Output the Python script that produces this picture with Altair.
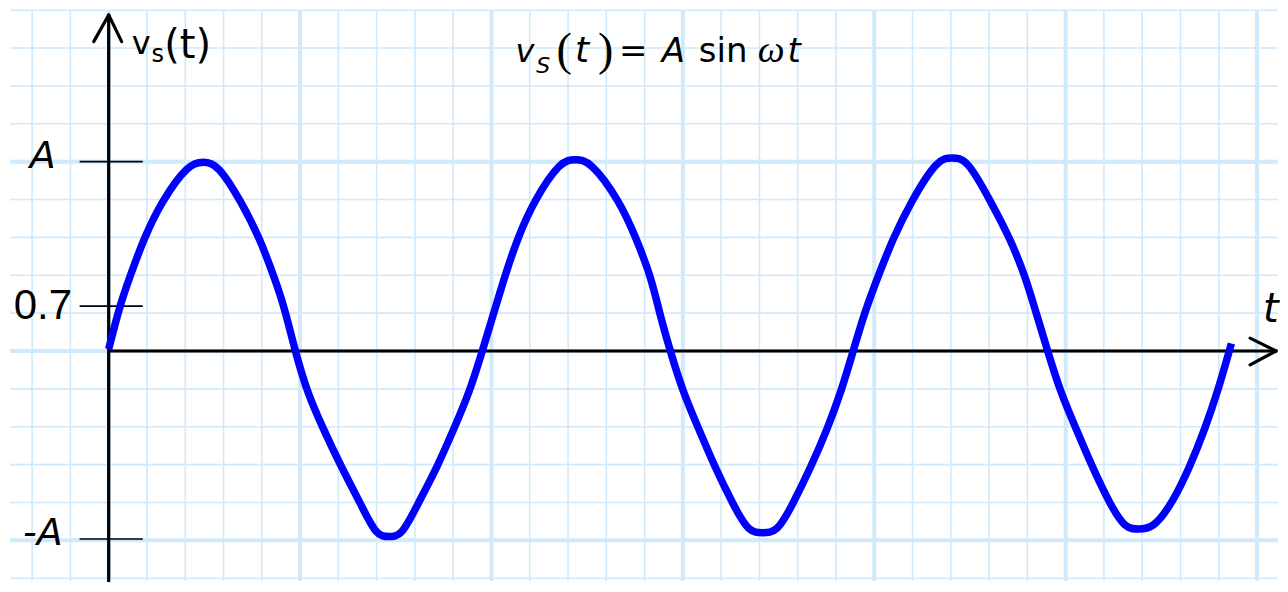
import altair as alt
import pandas as pd

# ---- data (t in grid cells, v in units of A) ----
t_values = [0.00, 0.29, 0.55, 0.91, 1.38, 2.09, 2.47, 2.84, 3.46, 3.96, 4.32, 4.58, 4.87,
            5.17, 5.60, 6.07, 6.59, 7.00, 7.32, 7.65, 8.07, 8.59, 9.02, 9.44, 9.76,
            10.06, 10.34, 10.67, 11.10, 11.82, 12.19, 12.56, 13.36, 13.79, 14.17, 14.39, 14.67,
            14.99, 15.41, 15.83, 16.31, 16.72, 17.08, 17.46, 17.87, 18.35, 18.78, 19.14, 19.45,
            19.74, 20.09, 20.48, 20.96, 21.67, 22.03, 22.41, 23.04, 23.56, 23.95, 24.23, 24.53,
            24.85, 25.27, 25.69, 26.16, 26.56, 26.90, 27.27, 27.77, 28.25, 28.64, 28.98, 29.33]
v_values = [0.01, 0.24, 0.39, 0.59, 0.79, 0.99, 1.00, 0.99, 0.79, 0.59, 0.39, 0.24, 0.00,
            -0.21, -0.41, -0.61, -0.81, -0.98, -0.98, -0.98, -0.81, -0.61, -0.41, -0.21, 0.00,
            0.20, 0.39, 0.59, 0.79, 1.01, 1.01, 1.01, 0.79, 0.59, 0.39, 0.20, 0.00,
            -0.21, -0.41, -0.61, -0.81, -0.96, -0.96, -0.96, -0.81, -0.61, -0.41, -0.21, 0.00,
            0.20, 0.39, 0.59, 0.79, 1.02, 1.02, 1.02, 0.79, 0.59, 0.39, 0.20, 0.00,
            -0.21, -0.41, -0.61, -0.81, -0.94, -0.94, -0.94, -0.81, -0.61, -0.41, -0.21, 0.04]

grid_minor_t = [-2, -1, 0, 1, 2, 3, 4, 5, 6, 7, 8, 9, 10, 11, 12, 13, 14, 15, 16,
                17, 18, 19, 20, 21, 22, 23, 24, 25, 26, 27, 28, 29, 30]
grid_major_t = [0, 5, 10, 15, 20, 25, 30]
grid_minor_v = [-1.2, -1.0, -0.8, -0.6, -0.4, -0.2, 0.0, 0.2, 0.4, 0.6, 0.8,
                1.0, 1.2, 1.4, 1.6, 1.8]
grid_major_v = [-1.0, 0.0, 1.0]

level_values = [1.0, 0.237, -0.993]
level_labels = ["A", "0.7", "-A"]

# ---- scales ----
X = alt.Scale(domain=[-2.578, 30.547], nice=False, zero=False)
Y = alt.Scale(domain=[-1.2147, 1.8010], nice=False, zero=False)
GRID = "#d0e9fb"
ONE = pd.DataFrame({"k": [0]})


def seg(x1, y1, x2, y2, width, color="black", cap="round"):
    return alt.Chart(ONE).mark_rule(color=color, strokeWidth=width, strokeCap=cap).encode(
        x=alt.XDatum(x1, axis=None, scale=X),
        y=alt.YDatum(y1, axis=None, scale=Y),
        x2=alt.X2Datum(x2),
        y2=alt.Y2Datum(y2),
    )


def text_at(txt, x, y, size, font="DejaVu Sans", style="normal", weight="normal",
            align="left", baseline="alphabetic"):
    return alt.Chart(ONE).mark_text(
        text=txt, font=font, fontSize=size, fontStyle=style, fontWeight=weight,
        align=align, baseline=baseline, color="black"
    ).encode(x=alt.XDatum(x, axis=None, scale=X), y=alt.YDatum(y, axis=None, scale=Y))


minor_x = alt.Chart(pd.DataFrame({"t": grid_minor_t})).mark_rule(color=GRID, strokeWidth=1.6).encode(
    x=alt.X("t:Q", scale=X, axis=None))
minor_y = alt.Chart(pd.DataFrame({"v": grid_minor_v})).mark_rule(color=GRID, strokeWidth=1.6).encode(
    y=alt.Y("v:Q", scale=Y, axis=None))
major_x = alt.Chart(pd.DataFrame({"t": grid_major_t})).mark_rule(color=GRID, strokeWidth=4).encode(
    x=alt.X("t:Q", scale=X, axis=None))
major_y = alt.Chart(pd.DataFrame({"v": grid_major_v})).mark_rule(color=GRID, strokeWidth=4).encode(
    y=alt.Y("v:Q", scale=Y, axis=None))

# axes with open arrow heads
v_axis = seg(0, -1.22, 0, 1.775, 3.2, cap="butt")
v_arrow_l = seg(0, 1.775, -0.391, 1.634, 3.2)
v_arrow_r = seg(0, 1.775, 0.339, 1.634, 3.2)
h_axis = seg(0, 0, 30.47, 0, 3.2, cap="butt")
h_arrow_u = seg(30.495, 0, 29.818, 0.068, 3.2)
h_arrow_d = seg(30.495, 0, 29.818, -0.073, 3.2)

levels = pd.DataFrame({"v": level_values, "label": level_labels})
level_ticks = alt.Chart(levels).mark_rule(color="black", strokeWidth=1.6).encode(
    y=alt.Y("v:Q", scale=Y, axis=None),
    x=alt.XDatum(-0.76, axis=None, scale=X),
    x2=alt.X2Datum(0.89),
)
label_a = alt.Chart(levels).transform_filter(alt.datum.label != "0.7").mark_text(
    font="DejaVu Sans", fontStyle="italic", fontSize=38, align="center", baseline="middle", dy=-5
).encode(y=alt.Y("v:Q", scale=Y, axis=None), x=alt.XDatum(-1.72, axis=None, scale=X), text="label:N")
label_07 = alt.Chart(levels).transform_filter(alt.datum.label == "0.7").mark_text(
    font="Liberation Sans", fontSize=42, align="center", baseline="middle", dy=0
).encode(y=alt.Y("v:Q", scale=Y, axis=None), x=alt.XDatum(-1.72, axis=None, scale=X), text="label:N")

curve = alt.Chart(pd.DataFrame({"t": t_values, "v": v_values})).mark_line(
    color="#0000ff", strokeWidth=7.5, interpolate="basis", strokeCap="butt"
).encode(x=alt.X("t:Q", scale=X, axis=None), y=alt.Y("v:Q", scale=Y, axis=None))

texts = [
    # vertical axis label v_s(t)
    text_at("v", 0.60, 1.571, 32),
    text_at("s", 1.12, 1.524, 24),
    text_at("(t)", 1.45, 1.550, 40),
    # horizontal axis label
    text_at("t", 30.36, 0.152, 40, style="italic", align="center"),
    # formula v_S(t) = A sin ωt
    text_at("v", 10.625, 1.529, 32, style="italic"),
    text_at("S", 11.17, 1.466, 22, style="italic"),
    text_at("(", 11.70, 1.513, 46, font="Liberation Serif"),
    text_at("t", 12.18, 1.529, 36, style="italic"),
    text_at(")", 12.78, 1.513, 46, font="Liberation Serif"),
    text_at("=", 13.333, 1.529, 34),
    text_at("A", 14.45, 1.529, 34, style="italic"),
    text_at("sin", 15.417, 1.529, 34),
    text_at("ω", 16.953, 1.529, 38, font="Liberation Serif", style="italic"),
    text_at("t", 17.734, 1.529, 34, style="italic"),
]

chart = alt.layer(
    minor_x, minor_y, major_x, major_y,
    v_axis, v_arrow_l, v_arrow_r, h_axis, h_arrow_u, h_arrow_d,
    level_ticks, label_a, label_07,
    curve,
    *texts,
).properties(
    width=1272, height=576,
    autosize=alt.AutoSizeParams(type="fit", contains="padding"),
    padding=0, background="white",
).configure_view(stroke=None)

chart.save("out.html", embed_options={"renderer": "svg", "actions": False})
